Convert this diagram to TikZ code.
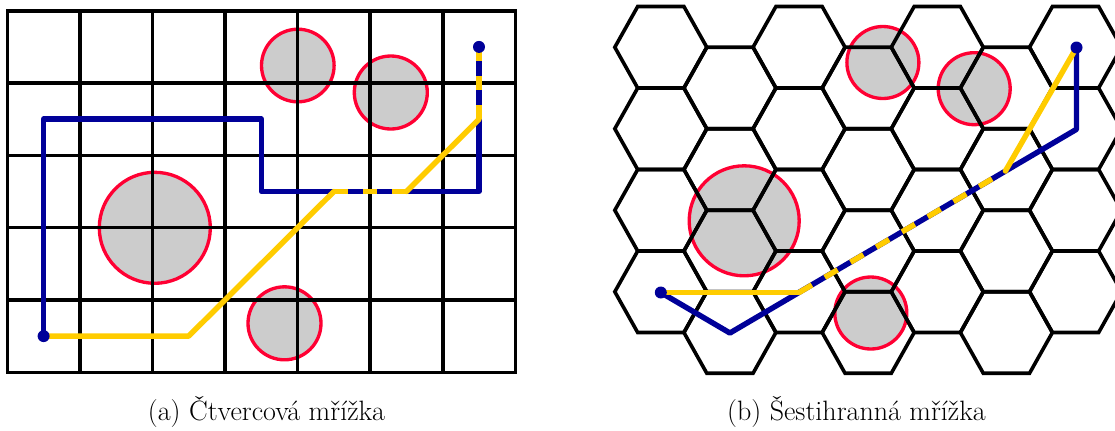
\documentclass[tikz,border=0pt]{standalone}
\usepackage{fontspec}
\definecolor{pathblue}{RGB}{0,0,153}
\definecolor{pathyellow}{RGB}{255,204,0}
\definecolor{obsred}{RGB}{255,0,51}
\definecolor{obsgray}{RGB}{204,204,204}
\begin{document}
\begin{tikzpicture}[x=0.75pt,y=-0.75pt,
  gridline/.style={line width=2.7pt,draw=black},
  obstacle/.style={fill=obsgray,draw=obsred,line width=2.5pt},
  bluepath/.style={line width=4.1pt,draw=pathblue,line cap=round,line join=round},
  yellowpath/.style={line width=4.1pt,draw=pathyellow,line cap=round,line join=round},
  yellowdashsq/.style={line width=4.1pt,draw=pathyellow,line cap=butt,dash pattern=on 10.88pt off 10.88pt},
  yellowdashhex/.style={line width=4.1pt,draw=pathyellow,line cap=butt,dash pattern=on 11.2pt off 11.2pt},
  enddot/.style={circle,fill=pathblue,inner sep=0pt,minimum size=9pt},
  capt/.style={font=\fontsize{21}{25}\selectfont,anchor=base,inner sep=0pt}
]
\useasboundingbox (0,0) rectangle (1115,430);

% ---------- square grid ----------
\draw[obstacle] (297.8,65.5) circle (36.3);
\draw[obstacle] (390.8,92.5) circle (36.5);
\draw[obstacle] (154.8,227.8) circle (55.5);
\draw[obstacle] (284.5,323.3) circle (36.5);

\foreach \i in {1,...,6}
  \draw[gridline] ({7.3+72.57*\i},10.7) -- ({7.3+72.57*\i},372.3);
\foreach \j in {1,...,4}
  \draw[gridline] (7.3,{10.7+72.32*\j}) -- (515.3,{10.7+72.32*\j});
\draw[gridline] (7.3,10.7) rectangle (515.3,372.3);

\coordinate (sA) at (43.6,336.1);
\coordinate (sB) at (43.6,119.2);
\coordinate (sC) at (261.3,119.2);
\coordinate (sD) at (261.3,191.5);
\coordinate (sE) at (479.0,191.5);
\coordinate (sF) at (479.0,46.9);
\coordinate (sG) at (188.7,336.1);
\coordinate (sH) at (333.9,191.5);
\coordinate (sI) at (406.5,191.5);
\coordinate (sJ) at (479.0,119.2);

\draw[bluepath] (sA) -- (sB) -- (sC) -- (sD) -- (sE) -- (sF);
\draw[yellowpath] (sA) -- (sG) -- (sH);
\draw[yellowpath] (sI) -- (sJ);
\draw[yellowdashsq] (sH) -- (sI);
\draw[yellowdashsq] (sJ) -- (sF);
\node[enddot] (sstart) at (sA) {};
\node[enddot] (sgoal) at (sF) {};

% ---------- hexagonal grid ----------
\begin{scope}
\clip (0,0) rectangle (1115,430);
\draw[obstacle] (882.9,62.5) circle (36);
\draw[obstacle] (974.2,88.7) circle (36);
\draw[obstacle] (744.2,220.8) circle (55);
\draw[obstacle] (870.8,313.0) circle (36);

\foreach \i in {0,...,6}{
  \foreach \j in {0,...,3}{
    \pgfmathsetmacro{\cx}{660.8+69.12*\i}
    \pgfmathsetmacro{\cy}{47.25+81.5*\j+40.75*mod(\i,2)}
    \draw[gridline] ({\cx-46},\cy) -- ({\cx-23.12},{\cy-40.75}) -- ({\cx+23.12},{\cy-40.75})
      -- ({\cx+46},\cy) -- ({\cx+23.12},{\cy+40.75}) -- ({\cx-23.12},{\cy+40.75}) -- cycle;
  }
}

\coordinate (hA) at (660.8,292.5);
\coordinate (hB) at (729.92,333.0);
\coordinate (hC) at (799.04,292.5);
\coordinate (hD) at (1005.4,171.0);
\coordinate (hE) at (1076.5,129.3);
\coordinate (hF) at (1076.5,47.5);

\draw[bluepath] (hA) -- (hB) -- (hE) -- (hF);
\draw[yellowpath] (hA) -- (hC);
\draw[yellowpath] (hD) -- (hF);
\draw[yellowdashhex] (hC) -- (hD);
\node[enddot] (hstart) at (hA) {};
\node[enddot] (hgoal) at (hF) {};
\end{scope}

% ---------- captions ----------
\node[capt] (capa) at (266.5,420) {(a) Čtvercová mřížka};
\node[capt] (capb) at (856.5,420) {(b) Šestihranná mřížka};
\end{tikzpicture}
\end{document}
